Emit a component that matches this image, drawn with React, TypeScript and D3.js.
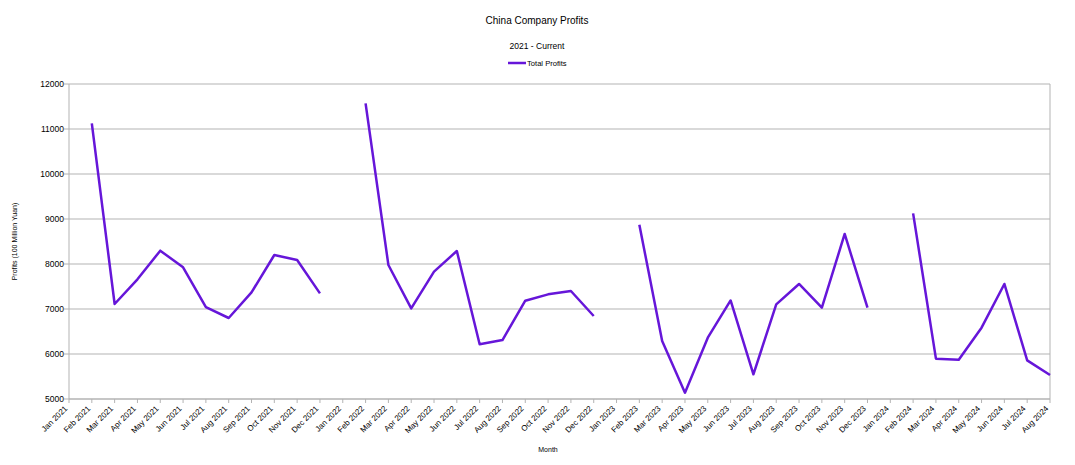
import React from "react";
import * as d3 from "d3";

const categories: string[] = [
  "Jan 2021", "Feb 2021", "Mar 2021", "Apr 2021", "May 2021", "Jun 2021", "Jul 2021", "Aug 2021", "Sep 2021", "Oct 2021", "Nov 2021", "Dec 2021",
  "Jan 2022", "Feb 2022", "Mar 2022", "Apr 2022", "May 2022", "Jun 2022", "Jul 2022", "Aug 2022", "Sep 2022", "Oct 2022", "Nov 2022", "Dec 2022",
  "Jan 2023", "Feb 2023", "Mar 2023", "Apr 2023", "May 2023", "Jun 2023", "Jul 2023", "Aug 2023", "Sep 2023", "Oct 2023", "Nov 2023", "Dec 2023",
  "Jan 2024", "Feb 2024", "Mar 2024", "Apr 2024", "May 2024", "Jun 2024", "Jul 2024", "Aug 2024",
];
const totalProfits: (number | null)[] = [
  null, 11126, 7111, 7660, 8296, 7926, 7040, 6800, 7370, 8200, 8089, 7348,
  null, 11570, 7978, 7015, 7830, 8289, 6215, 6311, 7185, 7326, 7400, 6844,
  null, 8873, 6289, 5141, 6363, 7190, 5548, 7104, 7556, 7030, 8667, 7030,
  null, 9126, 5896, 5874, 6585, 7556, 5859, 5533,
];
const yTicks = [5000, 6000, 7000, 8000, 9000, 10000, 11000, 12000];

const W = 1075;
const H = 465;
const left = 69;
const right = 1050;
const top = 84;
const bottom = 399;
const color = "#6616d9";
const font = "'Liberation Sans', Arial, sans-serif";

export default function App() {
  const x = d3.scalePoint<string>().domain(categories).range([left, right]);
  const y = d3.scaleLinear().domain([5000, 12000]).range([bottom, top]);
  const line = d3
    .line<number | null>()
    .defined((d) => d !== null)
    .x((_, i) => x(categories[i]) as number)
    .y((d) => y(d as number));
  const path = line(totalProfits) || "";

  return (
    <svg
      width={W}
      height={H}
      style={{ position: "absolute", left: 0, top: 0, background: "#fff" }}
      fontFamily={font}
    >
      <rect x={0} y={0} width={W} height={H} fill="#fff" />
      <text x={537} y={24} textAnchor="middle" fontSize={10} fill="#000">
        China Company Profits
      </text>
      <text x={537} y={49} textAnchor="middle" fontSize={8.5} fill="#000">
        2021 - Current
      </text>
      <line x1={508} x2={526} y1={63} y2={63} stroke={color} strokeWidth={2.5} />
      <text x={527} y={66} fontSize={7.6} fill="#000">
        Total Profits
      </text>

      {yTicks.map((t) => (
        <g key={t}>
          <line x1={left} x2={right} y1={y(t)} y2={y(t)} stroke="#b3b3b3" strokeWidth={1} />
          <line x1={left - 5} x2={left} y1={y(t)} y2={y(t)} stroke="#b3b3b3" strokeWidth={1} />
          <text x={left - 5} y={y(t) + 3} textAnchor="end" fontSize={8.5} fill="#000">
            {t}
          </text>
        </g>
      ))}
      <line x1={left} x2={left} y1={top} y2={bottom} stroke="#b3b3b3" />
      <line x1={right} x2={right} y1={top} y2={bottom} stroke="#b3b3b3" />
      <line x1={left} x2={right} y1={bottom} y2={bottom} stroke="#b3b3b3" />

      {categories.map((c) => {
        const cx = x(c) as number;
        return (
          <g key={c}>
            <line x1={cx} x2={cx} y1={bottom} y2={bottom + 4} stroke="#b3b3b3" />
            <text
              transform={`translate(${cx - 1},${bottom + 10}) rotate(-45)`}
              textAnchor="end"
              fontSize={8}
              fill="#000"
            >
              {c}
            </text>
          </g>
        );
      })}

      <path d={path} fill="none" stroke={color} strokeWidth={2.5} strokeLinejoin="round" />

      <text
        transform={`translate(17,${(top + bottom) / 2}) rotate(-90)`}
        textAnchor="middle"
        fontSize={7}
        fill="#000"
      >
        Profits (100 Million Yuan)
      </text>
      <text x={548} y={452} textAnchor="middle" fontSize={7} fill="#000">
        Month
      </text>
    </svg>
  );
}
